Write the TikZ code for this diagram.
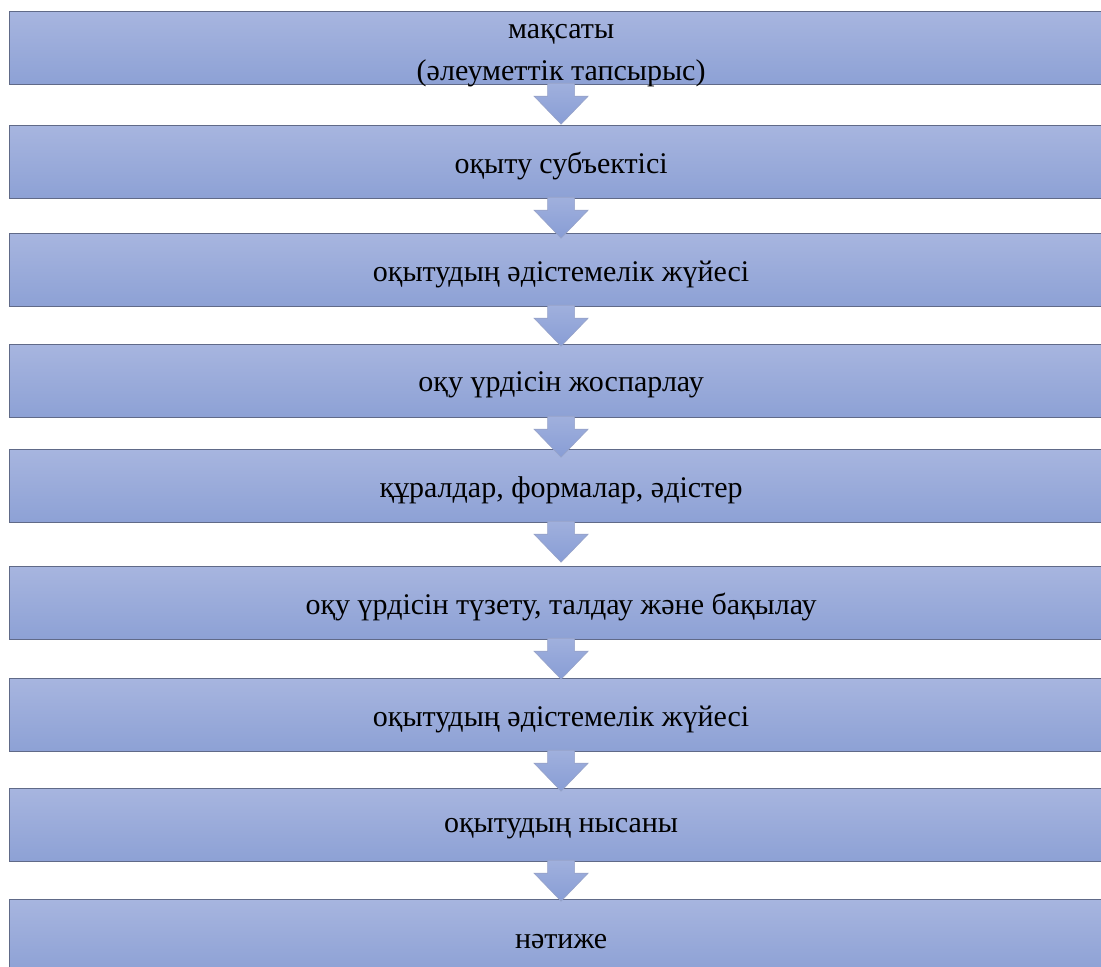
\documentclass[tikz,border=0pt]{standalone}
\usepackage{fontspec}
\setmainfont{Liberation Serif}
\usetikzlibrary{calc}
\definecolor{boxtop}{RGB}{167,181,223}
\definecolor{boxbot}{RGB}{141,161,213}
\definecolor{boxline}{RGB}{96,106,136}
\definecolor{arrtop}{RGB}{160,176,221}
\definecolor{arrbot}{RGB}{136,157,213}
\definecolor{arrline}{RGB}{150,162,200}
\tikzset{
  stage/.style={rectangle, minimum width=1103pt, minimum height=73pt,
    top color=boxtop, bottom color=boxbot, draw=boxline, line width=1.2pt,
    inner sep=0pt, anchor=north west},
  stagetext/.style={font=\fontsize{30}{42}\selectfont, align=center, inner sep=0pt},
  blockarrow/.style={top color=arrtop, bottom color=arrbot, draw=arrline, line width=0.6pt}
}
\newcommand{\stagearrow}[1]{%
  \path[blockarrow] ($(#1.south)+(-13.5,-2)$) -- ($(#1.south)+(-13.5,11)$)
    -- ($(#1.south)+(-27,11)$) -- ($(#1.south)+(0,39)$)
    -- ($(#1.south)+(27,11)$) -- ($(#1.south)+(13.5,11)$)
    -- ($(#1.south)+(13.5,-2)$) -- cycle;}
\begin{document}
\begin{tikzpicture}[x=1pt,y=-1pt]
\useasboundingbox (0,0) rectangle (1101,967);
\clip (0,0) rectangle (1101,967);
\fill[white] (0,0) rectangle (1101,967);
\node[stage] (b1) at (9,11) {};
\node[stage] (b2) at (9,125) {};
\node[stage] (b3) at (9,233) {};
\node[stage] (b4) at (9,344) {};
\node[stage] (b5) at (9,449) {};
\node[stage] (b6) at (9,566) {};
\node[stage] (b7) at (9,678) {};
\node[stage] (b8) at (9,788) {};
\node[stage] (b9) at (9,899) {};
\node[stagetext] (t1) at ($(b1.center)+(0,8)$) {мақсаты\\(әлеуметтік тапсырыс)};
\node[stagetext] (t2) at ($(b2.center)+(0,4)$) {оқыту субъектісі};
\node[stagetext] (t3) at ($(b3.center)+(0,4)$) {оқытудың әдістемелік жүйесі};
\node[stagetext] (t4) at ($(b4.center)+(0,4)$) {оқу үрдісін жоспарлау};
\node[stagetext] (t5) at ($(b5.center)+(0,4)$) {құралдар, формалар, әдістер};
\node[stagetext] (t6) at ($(b6.center)+(0,4)$) {оқу үрдісін түзету, талдау және бақылау};
\node[stagetext] (t7) at ($(b7.center)+(0,4)$) {оқытудың әдістемелік жүйесі};
\node[stagetext] (t8) at ($(b8.center)+(0,4)$) {оқытудың нысаны};
\node[stagetext] (t9) at ($(b9.center)+(0,5)$) {нәтиже};
\foreach \n in {b1,b2,b3,b4,b5,b6,b7,b8} {\stagearrow{\n}}
\end{tikzpicture}
\end{document}
